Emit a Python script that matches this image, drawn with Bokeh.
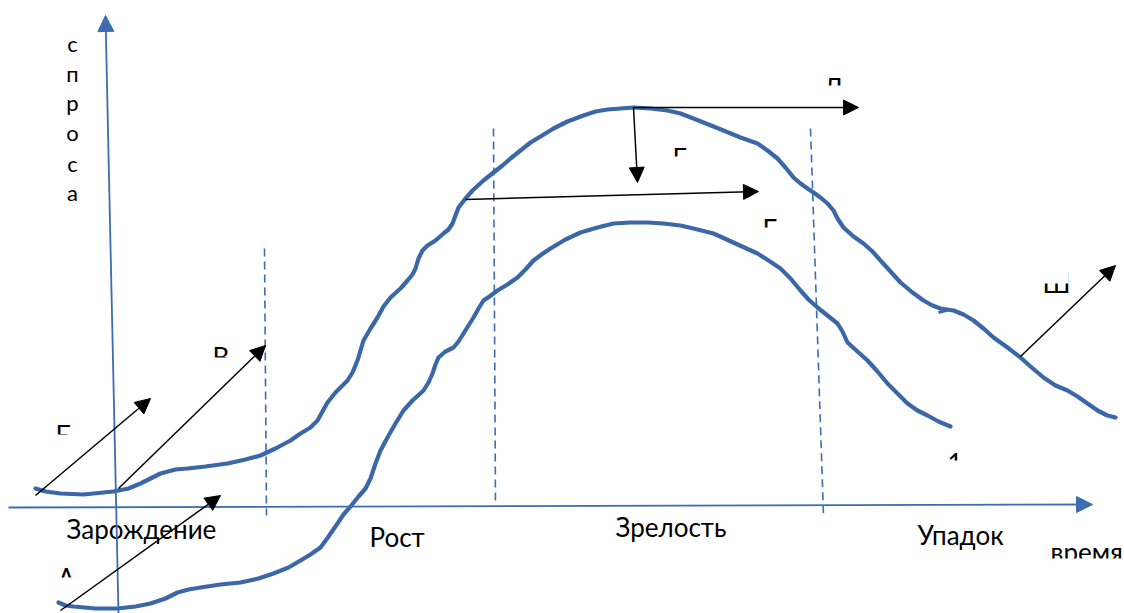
from bokeh.plotting import figure
from bokeh.models import Arrow, NormalHead, Range1d
from bokeh.core.properties import value
from bokeh.embed import file_html
from bokeh.resources import INLINE

# ---- data (diagram coordinates, y grows downward) ----
upper_x = [35,45,60,83,113,128,140,150,160,175,187,205,227,245,260,275,290,300,310,317,322,327,335,347,352,357,360,363,370,377,383,390,400,407,412,415,418,422,427,435,443,448,452,455,458,465,472,483,493,502,510,520,530,540,553,567,583,595,607,620,633,650,667,680,693,708,723,740,757,767,777,785,793,800,807,813,820,827,833,837,843,853,863,872,880,890,900,912,923,932,940,953,963,973,983,993,1007,1020,1030,1043,1055,1067,1077,1087,1097,1107,1115]
upper_y = [488,491,493,494,491,488,483,478,473,469,468,466,463,459,455,448,440,433,427,420,411,402,392,380,372,360,350,340,328,317,306,297,288,280,274,268,258,250,245,240,233,229,223,215,207,198,190,180,172,165,158,150,142,136,128,121,115,111,109,108,107,108,110,113,118,124,130,137,143,150,158,167,177,183,188,192,197,203,210,218,227,236,243,251,260,271,282,292,300,305,308,310,314,320,328,337,347,357,366,377,385,390,396,403,410,415,417]

lower_x = [58,65,73,95,117,135,150,165,177,188,200,220,240,258,273,288,300,310,320,328,337,343,350,358,365,370,375,380,387,395,403,412,423,428,432,435,438,445,453,458,463,468,473,478,483,489,497,507,517,525,533,541,550,565,580,597,613,630,647,663,680,697,713,735,757,768,780,790,800,808,817,827,837,842,847,857,867,877,887,897,907,917,927,938,950]
lower_y = [602,605,606,608,608,606,603,598,592,589,587,584,582,578,573,567,560,554,547,536,523,514,506,496,488,478,463,450,437,423,410,400,390,382,373,364,357,351,347,341,333,325,317,308,300,296,290,284,277,269,260,254,248,239,232,227,223,222,222,223,225,229,233,243,253,260,268,278,290,299,307,315,323,331,342,351,360,371,383,393,403,410,415,421,426]

blip_x = [938, 949]
blip_y = [312, 309]

# axes (start -> tip)
axis_x0 = [118, 8]
axis_y0 = [613, 507]
axis_x1 = [105, 1092]
axis_y1 = [15, 504]

# dashed stage boundaries
dash_x0 = [264, 493, 810]
dash_y0 = [248, 128, 128]
dash_x1 = [266, 495, 823]
dash_y1 = [515, 505, 515]

# black arrows (start -> tip)
arr_x0 = [35, 118, 60, 633, 633, 465, 1020]
arr_y0 = [495, 488, 610, 107, 107, 199, 356]
arr_x1 = [150, 265, 220, 858, 637, 758, 1115]
arr_y1 = [398, 345, 495, 107, 182, 191, 265]

# stage labels
stage_labels = ["Зарождение", "Рост", "Зрелость", "Упадок"]
stage_x = [66, 369, 615, 917]
stage_y = [538, 546, 536, 544]

# vertical axis caption letters
cap_letters = ["с", "п", "р", "о", "с", "а"]
cap_x = [72] * 6
cap_y = [53, 83, 112, 142, 173, 202]

# clipped text fragments: letter, left x, visible band
frag_letters = ["Б", "В", "А", "Д", "Г", "Е", "Ш", "1", "время"]
frag_x = [55, 212, 57, 823, 672, 762, 1042, 947, 1050]
frag_vis_top = [425, 347, 568, 78, 148, 219, 283, 453, 548]
frag_vis_bot = [434, 357, 577, 85, 156, 227, 292, 460, 558]
frag_shows_top = [True, True, True, True, True, True, False, True, True]

BLUE = "#3b67a9"
AXIS_BLUE = "#3d6cb0"
FONT = "Lato"
FS = "26px"
CAP = 19      # cap height at FS
XH = 13       # x-height at FS
TDY = -10     # renderer baseline correction

p = figure(width=1124, height=613,
           x_range=Range1d(0, 1124), y_range=Range1d(613, 0),
           output_backend="svg", toolbar_location=None,
           min_border=0, x_axis_location=None, y_axis_location=None)
p.grid.visible = False
p.outline_line_color = None
p.background_fill_color = "white"

# fragments with white masks (drawn first, everything else on top)
for t, x, vt, vb, top in zip(frag_letters, frag_x, frag_vis_top, frag_vis_bot, frag_shows_top):
    w = 80 if t == "время" else 26
    if top:
        base = vt + (XH if t == "время" else CAP)
        p.text(x=[x], y=[base + TDY], text=[t], text_font=value(FONT), text_font_size=FS,
               text_baseline="alphabetic", text_align="left", text_color="black")
        p.quad(left=[x - 4], right=[x + w], top=[vb], bottom=[base + 12],
               fill_color="white", line_color=None)
    else:
        base = vb
        p.text(x=[x], y=[base + TDY], text=[t], text_font=value(FONT), text_font_size=FS,
               text_baseline="alphabetic", text_align="left", text_color="black")
        p.quad(left=[x - 4], right=[x + w], top=[base - 26], bottom=[vt],
               fill_color="white", line_color=None)

# labels
p.text(x=stage_x, y=[v + TDY for v in stage_y], text=stage_labels, text_font=value(FONT),
       text_font_size=FS, text_baseline="alphabetic", text_align="left", text_color="black")
p.text(x=cap_x, y=[v + TDY for v in cap_y], text=cap_letters, text_font=value(FONT),
       text_font_size="22px", text_baseline="alphabetic", text_align="center", text_color="black")

# dashed lines
for x0, y0, x1, y1 in zip(dash_x0, dash_y0, dash_x1, dash_y1):
    p.line([x0, x1], [y0, y1], line_color=AXIS_BLUE, line_width=1.6, line_dash="8 5")

# curves
p.line(upper_x, upper_y, line_color=BLUE, line_width=4.2, line_join="round", line_cap="round")
p.line(lower_x, lower_y, line_color=BLUE, line_width=4.2, line_join="round", line_cap="round")
p.line(blip_x, blip_y, line_color=BLUE, line_width=3)

# axes arrows
for x0, y0, x1, y1 in zip(axis_x0, axis_y0, axis_x1, axis_y1):
    p.add_layout(Arrow(x_start=x0, y_start=y0, x_end=x1, y_end=y1,
                       line_color=AXIS_BLUE, line_width=1.8,
                       end=NormalHead(size=16, fill_color=AXIS_BLUE, line_color=AXIS_BLUE)))

# black arrows
for x0, y0, x1, y1 in zip(arr_x0, arr_y0, arr_x1, arr_y1):
    p.add_layout(Arrow(x_start=x0, y_start=y0, x_end=x1, y_end=y1,
                       line_color="black", line_width=1.5,
                       end=NormalHead(size=15, fill_color="black", line_color="black")))

open("out.html", "w").write(file_html(p, INLINE))
